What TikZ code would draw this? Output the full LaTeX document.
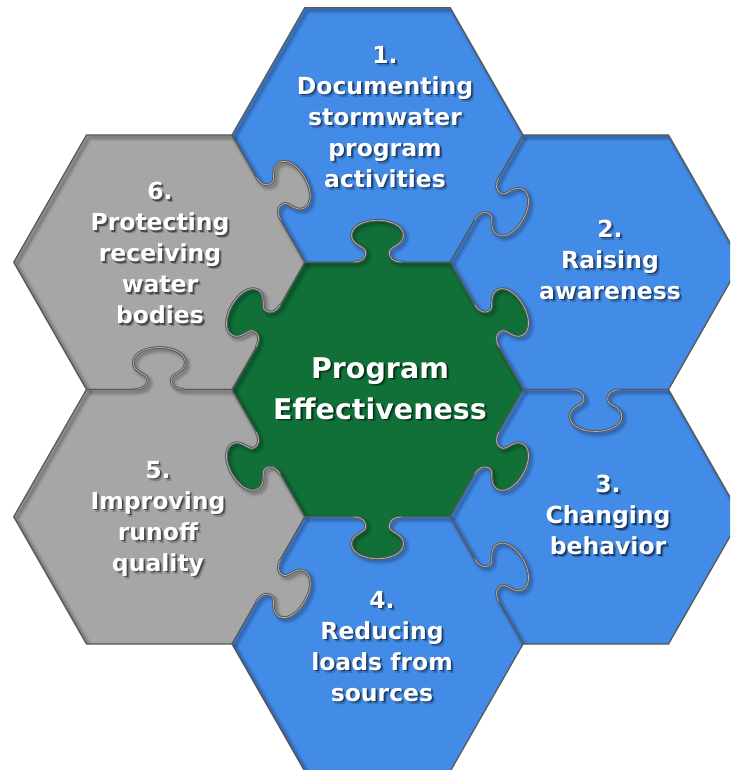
\documentclass[tikz,border=0pt]{standalone}
\usepackage{fontspec}
\newfontfamily\lblfont{DejaVu Sans}
\definecolor{pblue}{RGB}{66,139,231}
\definecolor{pgreen}{RGB}{16,112,56}
\definecolor{pgray}{RGB}{166,166,166}
\definecolor{pline}{RGB}{88,88,88}
\tikzset{
  edgeframe/.style n args={4}{shift={(#1,#2)},
     x={({-1*(#4)*1pt},{-1*(#3)*1pt})},
     y={({(#3)*1pt},{-1*(#4)*1pt})}},
  outline/.style={draw=pline, line width=1.3pt, line join=round},
  tabdark/.style={draw=pline, line width=2.6pt, line cap=round},
  tablight/.style={draw=white, draw opacity=0.55, line width=0.7pt, line cap=round},
  shA/.style={draw=black, draw opacity=0.06, line width=8pt, line join=round},
  shB/.style={draw=black, draw opacity=0.08, line width=5pt, line join=round},
  shC/.style={draw=black, draw opacity=0.10, line width=2.5pt, line join=round},
  lbl/.style={text=white, align=center, inner sep=0pt, anchor=north,
     font=\lblfont\bfseries\fontsize{23.5}{31}\selectfont},
  ctr/.style={lbl, font=\lblfont\bfseries\fontsize{28.5}{41}\selectfont}
}
\newcommand\hexfill[3]{\fill[#3] ({#1+145.5},#2) -- ({#1+72.75},{#2+127.25}) -- ({#1-72.75},{#2+127.25}) -- ({#1-145.5},#2) -- ({#1-72.75},{#2-127.25}) -- ({#1+72.75},{#2-127.25}) -- cycle;}
\newcommand\tabfill[5]{\begin{scope}[edgeframe={#1}{#2}{#3}{#4}]
  \fill[#5] (-26,-2.5) -- (-26,0) .. controls (-16,0) and (-11,4) .. (-12,11) .. controls (-13,16) and (-26,17) .. (-26,27) .. controls (-26,36) and (-14,42) .. (0,42) .. controls (14,42) and (26,36) .. (26,27) .. controls (26,17) and (13,16) .. (12,11) .. controls (11,4) and (16,0) .. (26,0) -- (26,-2.5) -- cycle;
\end{scope}}
\newcommand\tabedge[6]{\begin{scope}[edgeframe={#1}{#2}{#3}{#4}]
  \draw[#6] (-#5,0) -- (-26,0) .. controls (-16,0) and (-11,4) .. (-12,11) .. controls (-13,16) and (-26,17) .. (-26,27) .. controls (-26,36) and (-14,42) .. (0,42) .. controls (14,42) and (26,36) .. (26,27) .. controls (26,17) and (13,16) .. (12,11) .. controls (11,4) and (16,0) .. (26,0) -- (#5,0);
\end{scope}}
\newcommand\tabcurve[5]{\begin{scope}[edgeframe={#1}{#2}{#3}{#4}]
  \draw[#5] (-24,0.3) .. controls (-16,0.3) and (-11,4) .. (-12,11) .. controls (-13,16) and (-26,17) .. (-26,27) .. controls (-26,36) and (-14,42) .. (0,42) .. controls (14,42) and (26,36) .. (26,27) .. controls (26,17) and (13,16) .. (12,11) .. controls (11,4) and (16,0.3) .. (24,0.3);
\end{scope}}
% all twelve internal edges: mid x, mid y, normal x, normal y, half length
\newcommand\alledges[1]{%
  \tabedge{377.5}{262.25}{0}{-1}{72.75}{#1}%
  \tabedge{377.5}{516.75}{0}{1}{72.75}{#1}%
  \tabedge{486.625}{325.875}{0.868}{-0.497}{73.2}{#1}%
  \tabedge{486.625}{453.125}{0.868}{0.497}{73.2}{#1}%
  \tabedge{268.375}{325.875}{-0.868}{-0.497}{73.2}{#1}%
  \tabedge{268.375}{453.125}{-0.868}{0.497}{73.2}{#1}%
  \tabedge{486.625}{198.625}{0.868}{0.497}{73.2}{#1}%
  \tabedge{595.75}{389.5}{0}{1}{72.75}{#1}%
  \tabedge{486.625}{580.375}{0.868}{-0.497}{73.2}{#1}%
  \tabedge{268.375}{580.375}{0.868}{0.497}{73.2}{#1}%
  \tabedge{159.25}{389.5}{0}{-1}{72.75}{#1}%
  \tabedge{268.375}{198.625}{0.868}{-0.497}{73.2}{#1}%
}
\newcommand\allcurves[1]{%
  \tabcurve{377.5}{262.25}{0}{-1}{#1}%
  \tabcurve{377.5}{516.75}{0}{1}{#1}%
  \tabcurve{486.625}{325.875}{0.868}{-0.497}{#1}%
  \tabcurve{486.625}{453.125}{0.868}{0.497}{#1}%
  \tabcurve{268.375}{325.875}{-0.868}{-0.497}{#1}%
  \tabcurve{268.375}{453.125}{-0.868}{0.497}{#1}%
  \tabcurve{486.625}{198.625}{0.868}{0.497}{#1}%
  \tabcurve{595.75}{389.5}{0}{1}{#1}%
  \tabcurve{486.625}{580.375}{0.868}{-0.497}{#1}%
  \tabcurve{268.375}{580.375}{0.868}{0.497}{#1}%
  \tabcurve{159.25}{389.5}{0}{-1}{#1}%
  \tabcurve{268.375}{198.625}{0.868}{-0.497}{#1}%
}
\newcommand\perim[1]{\draw[#1] (13.75,262.25) -- (86.5,135) -- (232,135) -- (304.75,7.75) -- (450.25,7.75) -- (523,135) -- (668.5,135) -- (741.25,262.25) -- (668.5,389.5) -- (741.25,516.75) -- (668.5,644) -- (523,644) -- (450.25,771.25) -- (304.75,771.25) -- (232,644) -- (86.5,644) -- (13.75,516.75) -- (86.5,389.5) -- cycle;}
\newcommand\slabel[5]{%
  \node[#2, text=black, text opacity=0.2] (#1b) at ({#3+2.8},{#4+2.8}) {#5};
  \node[#2, text=black, text opacity=0.45] (#1s) at ({#3+1.6},{#4+1.6}) {#5};
  \node[#2] (#1) at (#3,#4) {#5};}
\begin{document}
\begin{tikzpicture}[x=1pt,y=-1pt]
\useasboundingbox (0,0) rectangle (730,770);
\fill[white] (0,0) rectangle (730,770);
\clip (0,0) rectangle (730,770);
% hexagon bodies
\hexfill{377.5}{389.5}{pgreen}
\hexfill{377.5}{135}{pblue}
\hexfill{595.75}{262.25}{pblue}
\hexfill{595.75}{516.75}{pblue}
\hexfill{377.5}{644}{pblue}
\hexfill{159.25}{516.75}{pgray}
\hexfill{159.25}{262.25}{pgray}
% puzzle tabs
\tabfill{377.5}{262.25}{0}{-1}{pgreen}
\tabfill{377.5}{516.75}{0}{1}{pgreen}
\tabfill{486.625}{325.875}{0.868}{-0.497}{pgreen}
\tabfill{486.625}{453.125}{0.868}{0.497}{pgreen}
\tabfill{268.375}{325.875}{-0.868}{-0.497}{pgreen}
\tabfill{268.375}{453.125}{-0.868}{0.497}{pgreen}
\tabfill{486.625}{198.625}{0.868}{0.497}{pblue}
\tabfill{595.75}{389.5}{0}{1}{pblue}
\tabfill{486.625}{580.375}{0.868}{-0.497}{pblue}
\tabfill{268.375}{580.375}{0.868}{0.497}{pgray}
\tabfill{159.25}{389.5}{0}{-1}{pgray}
\tabfill{268.375}{198.625}{0.868}{-0.497}{pgray}
% inner shadows
\begin{scope}
  \clip (13.75,262.25) -- (86.5,135) -- (232,135) -- (304.75,7.75) -- (450.25,7.75) -- (523,135) -- (668.5,135) -- (741.25,262.25) -- (668.5,389.5) -- (741.25,516.75) -- (668.5,644) -- (523,644) -- (450.25,771.25) -- (304.75,771.25) -- (232,644) -- (86.5,644) -- (13.75,516.75) -- (86.5,389.5) -- cycle;
  \begin{scope}[shift={(2.5,2.5)}]
    \alledges{shA}\perim{shA}
    \alledges{shB}\perim{shB}
    \alledges{shC}\perim{shC}
  \end{scope}
\end{scope}
% outlines
\alledges{outline}
\perim{outline}
\allcurves{tabdark}
\allcurves{tablight}
% labels
\slabel{l1}{lbl}{385}{45.9}{1.\\Documenting\\stormwater\\program\\activities}
\slabel{l2}{lbl}{610}{219.6}{2.\\Raising\\awareness}
\slabel{l3}{lbl}{608}{474.9}{3.\\Changing\\behavior}
\slabel{l4}{lbl}{382}{590.9}{4.\\Reducing\\loads from\\sources}
\slabel{l5}{lbl}{158}{460.9}{5.\\Improving\\runoff\\quality}
\slabel{l6}{lbl}{160}{181.9}{6.\\Protecting\\receiving\\water\\bodies}
\slabel{lc}{ctr}{380}{357.2}{Program\\Effectiveness}
\end{tikzpicture}
\end{document}
